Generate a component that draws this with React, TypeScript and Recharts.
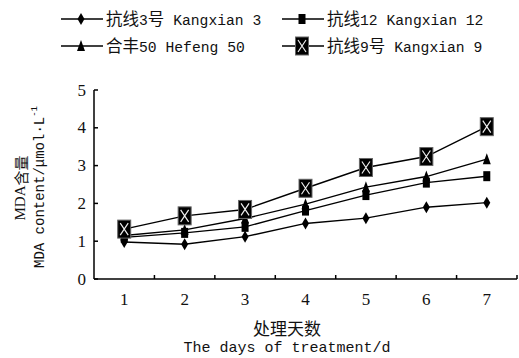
import { LineChart, Line, XAxis, YAxis } from "recharts";

const DAYS = [1, 2, 3, 4, 5, 6, 7];
const KANGXIAN3 = [0.98, 0.92, 1.12, 1.47, 1.61, 1.9, 2.02];
const KANGXIAN12 = [1.1, 1.22, 1.38, 1.81, 2.22, 2.55, 2.72];
const HEFENG50 = [1.15, 1.3, 1.6, 1.98, 2.43, 2.71, 3.17];
const KANGXIAN9 = [1.32, 1.67, 1.84, 2.4, 2.95, 3.24, 4.03];
const X_TICKS = [1, 1.5, 2, 2.5, 3, 3.5, 4, 4.5, 5, 5.5, 6, 6.5, 7, 7.5];
const Y_TICKS = [0, 1, 2, 3, 4, 5];

const data = DAYS.map((d, i) => ({
  day: d, k3: KANGXIAN3[i], k12: KANGXIAN12[i], h50: HEFENG50[i], k9: KANGXIAN9[i],
}));

const MONO = "'Liberation Mono', 'Noto Sans CJK SC', monospace";
const SERIF = "'Liberation Serif', 'Noto Sans CJK SC', serif";
const CJK = "'Noto Sans CJK SC', sans-serif";

type Shape = "diamond" | "square" | "triangle" | "xbox";

function Marker({ shape, cx, cy }: { shape: Shape; cx: number; cy: number }) {
  if (shape === "diamond")
    return <polygon points={`${cx},${cy - 6} ${cx + 3.5},${cy} ${cx},${cy + 6} ${cx - 3.5},${cy}`} fill="#000" />;
  if (shape === "square") return <rect x={cx - 3.5} y={cy - 5} width={7} height={10} fill="#000" />;
  if (shape === "triangle")
    return <polygon points={`${cx},${cy - 6} ${cx + 4},${cy + 5} ${cx - 4},${cy + 5}`} fill="#000" />;
  return (
    <g>
      <rect x={cx - 6.5} y={cy - 9} width={13} height={18} fill="#000" stroke="#666" strokeWidth={1} />
      <path d={`M${cx - 4},${cy - 6}L${cx + 4},${cy + 6}M${cx + 4},${cy - 6}L${cx - 4},${cy + 6}`} stroke="#eee" strokeWidth={1.2} />
    </g>
  );
}

const dot = (shape: Shape) => (p: any) => <Marker key={p.index} shape={shape} cx={p.cx} cy={p.cy} />;

function XTick({ x, y, payload }: any) {
  const v = payload.value;
  if (Number.isInteger(v))
    return <text x={x} y={y + 20} textAnchor="middle" dominantBaseline="central" fontFamily={SERIF} fontSize={17} fill="#111">{v}</text>;
  return <line x1={x} y1={y} x2={x} y2={y - 4} stroke="#000" strokeWidth={1.5} />;
}

function YTick({ x, y, payload }: any) {
  return (
    <g>
      <line x1={x} y1={y} x2={x + 4} y2={y} stroke="#000" strokeWidth={1.5} />
      <text x={x - 8} y={y} textAnchor="end" dominantBaseline="central" fontFamily={SERIF} fontSize={17} fill="#111">{payload.value}</text>
    </g>
  );
}

// chinese runs wider than the half-width latin, like a song-style font
function Mixed({ text }: { text: string }) {
  const runs = text.match(/[\u4e00-\u9fff]+|[^\u4e00-\u9fff]+/g) ?? [];
  return (
    <>
      {runs.map((r, i) =>
        /[\u4e00-\u9fff]/.test(r)
          ? <span key={i} style={{ fontFamily: CJK, fontSize: 16.5 }}>{r}</span>
          : <span key={i} style={{ fontFamily: MONO, fontSize: 14.7 }}>{r}</span>
      )}
    </>
  );
}

function LegendItem({ shape, label, left, top }: { shape: Shape; label: string; left: number; top: number }) {
  return (
    <div style={{ position: "absolute", left, top, display: "flex", alignItems: "center", height: 20 }}>
      <svg width={42} height={20}>
        <line x1={0} y1={10} x2={42} y2={10} stroke="#000" strokeWidth={1.5} />
        <Marker shape={shape} cx={20} cy={10} />
      </svg>
      <span style={{ marginLeft: 3, color: "#111", whiteSpace: "pre", lineHeight: "20px" }}><Mixed text={label} /></span>
    </div>
  );
}

export default function App() {
  return (
    <div style={{ position: "absolute", left: 0, top: 0, width: 519, height: 358, background: "#fff" }}>
      <LineChart width={519} height={358} data={data} margin={{ top: 90, right: 2, bottom: 49, left: 64 }}>
        <XAxis dataKey="day" type="number" domain={[0.5, 7.5]} ticks={X_TICKS} tick={<XTick />}
          tickSize={0} tickMargin={0} tickLine={false} interval={0} height={30}
          axisLine={{ stroke: "#000", strokeWidth: 1.5 }} />
        <YAxis domain={[0, 5]} ticks={Y_TICKS} tick={<YTick />} tickSize={0} tickMargin={0}
          tickLine={false} interval={0} width={30} axisLine={{ stroke: "#000", strokeWidth: 1.5 }} />
        <Line dataKey="k3" stroke="#000" strokeWidth={1.4} dot={dot("diamond")} isAnimationActive={false} />
        <Line dataKey="k12" stroke="#000" strokeWidth={1.4} dot={dot("square")} isAnimationActive={false} />
        <Line dataKey="h50" stroke="#000" strokeWidth={1.4} dot={dot("triangle")} isAnimationActive={false} />
        <Line dataKey="k9" stroke="#000" strokeWidth={1.4} dot={dot("xbox")} isAnimationActive={false} />
      </LineChart>

      <LegendItem shape="diamond" label="抗线3号 Kangxian 3" left={61} top={9} />
      <LegendItem shape="square" label="抗线12 Kangxian 12" left={282} top={9} />
      <LegendItem shape="triangle" label="合丰50 Hefeng 50" left={61} top={36} />
      <LegendItem shape="xbox" label="抗线9号 Kangxian 9" left={282} top={36} />

      <svg width={519} height={358} style={{ position: "absolute", left: 0, top: 0, pointerEvents: "none" }}>
        <text transform="translate(20,188) rotate(-90)" textAnchor="middle" dominantBaseline="central"
          fontFamily={SERIF} fontSize={15} fill="#111">MDA<tspan fontFamily={CJK}>含量</tspan></text>
        <text transform="translate(40,187) rotate(-90)" textAnchor="middle" dominantBaseline="central"
          fontFamily={MONO} fontSize={14} fill="#111">
          MDA content/μmol·L<tspan dy={-5} fontSize={9}>-1</tspan>
        </text>
        <text x={287} y={327} textAnchor="middle" dominantBaseline="central" fontFamily={CJK} fontSize={17} fill="#111">处理天数</text>
        <text x={287} y={348} textAnchor="middle" dominantBaseline="central" fontFamily={MONO} fontSize={15} fill="#111">The days of treatment/d</text>
      </svg>
    </div>
  );
}
